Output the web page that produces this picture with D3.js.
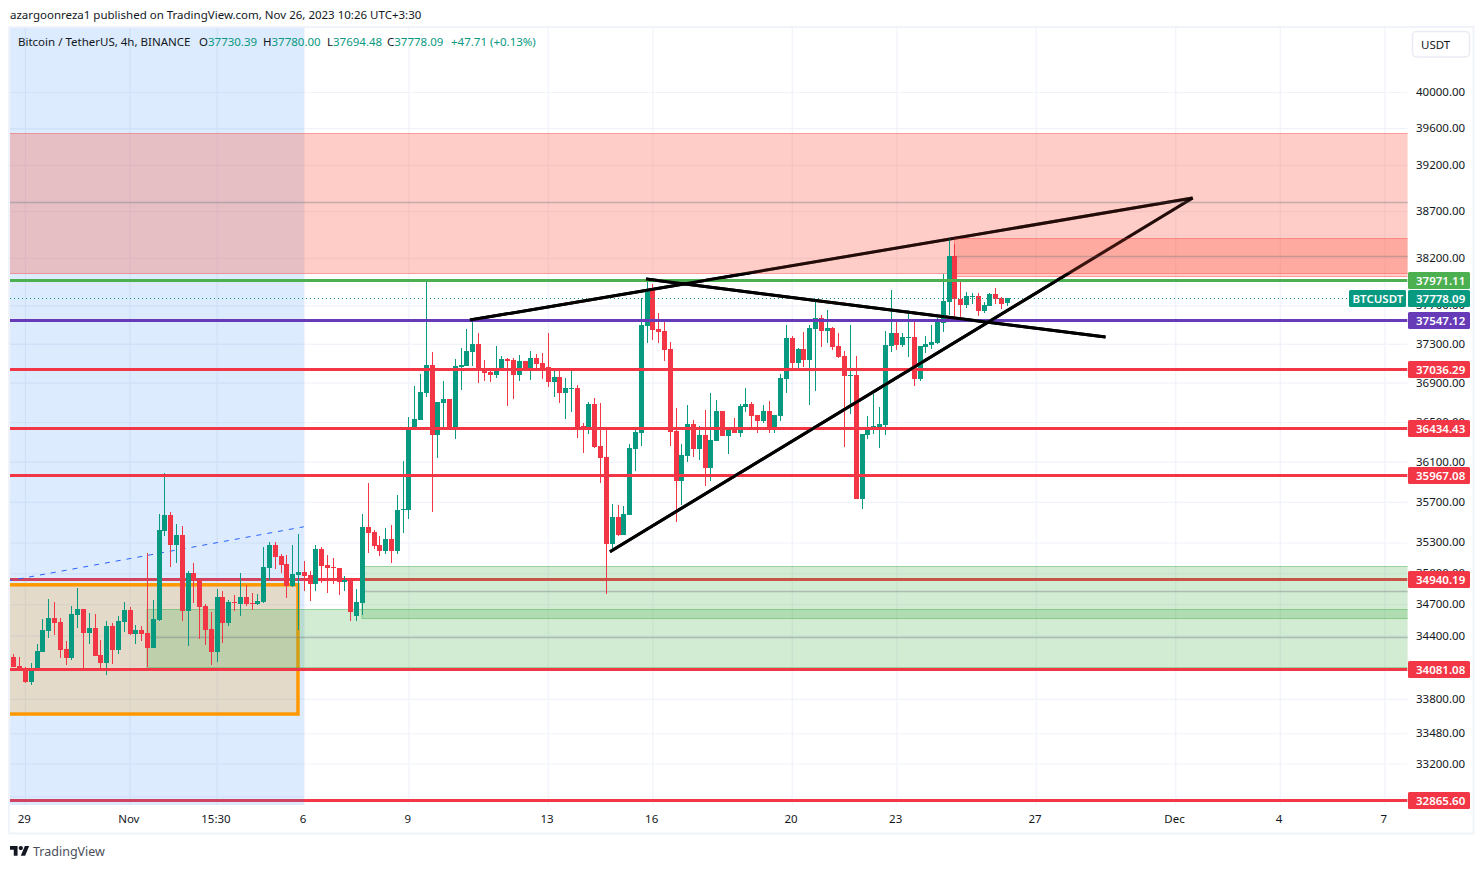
<!DOCTYPE html>
<html><head><meta charset="utf-8">
<style>
html,body{margin:0;padding:0;background:#fff}
svg{display:block}
text{font-family:"Noto Sans",Arial,sans-serif;font-size:11.5px;fill:#131722}
</style>
<script src="https://cdn.jsdelivr.net/npm/d3@7"></script>
</head><body><svg id="c" width="1484" height="869"></svg>
<script>
const opens=[34200,34114,34076,33963,34076,34247,34447,34571,34533,34275,34190,34600,34658,34428,34475,34218,34143,34494,34266,34533,34648,34418,34456,34428,34285,34552,35415,35572,35278,35376,34638,35005,34937,34686,34466,34247,34773,34523,34725,34706,34773,34715,34706,34725,35053,35278,35171,35093,34879,34986,35015,34986,34898,35239,35083,35063,35053,34918,34947,34590,34715,35454,35405,35278,35219,35337,35219,35622,35622,36431,36522,36796,37082,36370,36695,36735,36431,37062,37072,37216,37299,37041,37010,36980,37041,37144,37134,36980,37123,37041,37154,37103,37062,36909,36960,36796,36837,36847,36461,36441,36684,36259,36149,35288,35553,35376,35572,36229,36391,37486,37861,37454,37433,37247,36411,35909,36159,36481,36229,36370,36039,36310,36613,36360,36451,36391,36654,36684,36573,36512,36613,36441,36562,36939,37361,37103,37247,37134,37454,37569,37433,37465,37278,37175,36970,36980,35731,36370,36431,36451,36471,37278,37413,37289,37361,37371,36939,37268,37289,37309,37517,37736,38221,37767,37704,37788,37798,37642,37694,37819,37778,37730.39];
const highs=[34228,34200,34105,34143,34323,34562,34754,34725,34571,34351,34686,34859,34658,34618,34610,34361,34542,34523,34590,34725,34677,34504,34494,35200,34744,35582,35989,35602,35484,35464,35024,35103,34937,34706,34629,34850,34830,34744,34792,35005,34888,34811,34802,35258,35307,35307,35190,35180,35278,35386,35122,35024,35278,35258,35180,35151,35053,34976,34947,34850,35582,35889,35425,35366,35444,35474,35770,36109,36553,36868,36990,37967,37216,36705,36919,36735,37144,37258,37454,37548,37413,37134,37051,37278,37175,37154,37154,37185,37123,37227,37195,37206,37413,37041,37021,36950,37031,36878,36492,36705,36745,36695,36431,35681,35671,35661,36279,36421,37778,37977,37924,37621,37548,37319,36644,36279,36674,36522,36461,36623,36796,36725,36613,36421,36542,36684,36847,36705,36573,36674,36715,36573,36990,37496,37382,37258,37423,37496,37746,37600,37652,37475,37413,37227,37496,37175,36380,36562,36786,36654,37433,37861,37538,37413,37652,37527,37278,37382,37496,37569,38030,38412,38348,37945,37840,37830,37830,37736,37830,37882,37788,37780];
const lows=[34105,34076,33954,33935,34076,34247,34380,34409,34190,34124,34171,34475,34076,34323,34209,34076,34029,34133,34228,34437,34409,34323,34351,34105,34285,34542,35366,35063,35103,34542,34304,34715,34370,34313,34124,34152,34332,34494,34638,34590,34686,34648,34696,34715,34937,35044,35005,34763,34869,34456,34831,34734,34831,34908,34811,34898,34792,34831,34542,34542,34600,35200,35239,35171,35190,35103,35190,35396,35533,36421,36522,36756,35602,36139,36451,36431,36330,36827,37072,37072,36899,36919,36909,36950,37041,36664,36735,36919,37041,36929,37041,36939,36858,36756,36695,36532,36603,36340,36189,36380,36239,35889,34802,35210,35366,35376,35572,36009,36259,37309,37340,37309,37123,36259,35503,35671,36099,36149,36119,35859,35909,36310,36360,36179,36391,36350,36603,36451,36391,36491,36391,36391,36512,36796,37041,37041,37062,36674,36817,37268,37309,37237,37154,36249,36583,35731,35632,36330,36380,36239,36370,37216,37237,37268,37165,36868,36919,37206,37247,37299,37423,37600,37548,37579,37673,37715,37590,37621,37694,37715,37663,37694.48];
const closes=[34105,34076,33963,34086,34256,34456,34571,34523,34266,34190,34610,34658,34428,34475,34209,34143,34494,34266,34542,34648,34418,34456,34418,34285,34562,35425,35572,35278,35376,34638,35005,34937,34677,34456,34247,34773,34523,34725,34715,34773,34706,34706,34734,35063,35278,35161,35083,34879,34995,35015,34976,34898,35239,35073,35053,35053,34918,34937,34629,34725,35454,35396,35268,35219,35337,35219,35622,35632,36441,36532,36807,37082,36370,36705,36735,36431,37072,37082,37227,37299,37041,37000,36980,37051,37144,37123,36980,37123,37041,37154,37092,37041,36909,36960,36796,36847,36847,36441,36441,36684,36249,36139,35288,35553,35376,35582,36239,36401,37496,37872,37444,37423,37237,36401,35909,36169,36481,36229,36370,36039,36320,36613,36360,36421,36391,36664,36684,36562,36512,36613,36441,36573,36950,37361,37103,37247,37134,37465,37569,37433,37465,37268,37165,36970,36980,35731,36380,36441,36461,36481,37289,37413,37289,37371,37371,36939,37278,37299,37319,37527,37746,38221,37767,37704,37798,37798,37642,37704,37819,37767,37715,37778.09];

const priceTicks=[40000,39600,39200,38700,38200,37700,37300,36900,36500,36100,35700,35300,35000,34700,34400,33800,33480,33200,32900];
const timeTickBars=[2,20,35,50,68,92,110,134,152,176,200,218,236];
const timeTickLabels=["29","Nov","15:30","6","9","13","16","20","23","27","Dec","4","7"];

const levelPrices=[37971.11,37547.12,37036.29,36434.43,35967.08,34940.19,34081.08,32865.60];
const levelColors=["#4caf50","#673ab7","#f23645","#f23645","#f23645","#f23645","#f23645","#f23645"];
const underLevels=[34940.19,32865.60];

// zones: from bar, to bar, high price, low price
const greenZones=[[23,242,34658,34105],[60,242,35073,34571]];
const redZones=[[-3,242,39548,38040],[162,242,38412,38014]];
const orangeZone=[-3,49,34888,33659];
const sessionEndBar=50;
const dashedTrend=[[-1,34925],[50,35454]];
const trendLines=[[[78.6,37547],[203,38840]],[[108.9,37977],[188,37371]],[[102.7,35210],[203,38840]]];
const lastClose=37778.09;

const uiFont='"Noto Sans",Arial,sans-serif';
const svg=d3.select("#c");
const paneL=10,paneR=1407.6,paneT=28,paneB=805;
const x=d3.scaleLinear().domain([-0.57,240]).range([paneL,paneR]);
const y=d3.scaleLog().domain([40000,32865.6]).range([92,800]);
const snap=v=>Math.round(v)+0.5;
const green="#089981",red="#f23645";

const defs=svg.append("defs");
defs.append("clipPath").attr("id","pane").append("rect").attr("x",paneL).attr("y",paneT).attr("width",paneR-paneL).attr("height",paneB-paneT);
defs.append("clipPath").attr("id","below").append("rect").attr("x",paneL).attr("y",y(38040)).attr("width",paneR-paneL).attr("height",paneB-y(38040));
defs.append("clipPath").attr("id","above").append("rect").attr("x",paneL).attr("y",paneT).attr("width",paneR-paneL).attr("height",y(38040)-paneT);

// grid
const gridY=svg.append("g").attr("transform",`translate(${paneL},0)`).call(d3.axisRight(y).tickValues(priceTicks).tickSize(paneR-paneL).tickFormat(""));
const gridX=svg.append("g").attr("transform",`translate(0,${paneB})`).call(d3.axisTop(x).tickValues(timeTickBars).tickSize(paneB-paneT).tickFormat(""));
[gridY,gridX].forEach(g=>{g.select(".domain").remove();g.selectAll("line").attr("stroke","#f0f3fa").attr("stroke-width",1.2);});

const pane=svg.append("g").attr("clip-path","url(#pane)");
const hline=(g,p,c,w)=>g.append("line").attr("x1",paneL).attr("x2",paneR).attr("y1",snap(y(p))).attr("y2",snap(y(p))).attr("stroke",c).attr("stroke-width",w);

// levels that sit underneath the drawings
underLevels.forEach(p=>hline(pane,p,levelColors[levelPrices.indexOf(p)],3));

// session highlight
pane.append("rect").attr("x",paneL).attr("y",paneT).attr("width",x(sessionEndBar)-paneL).attr("height",paneB-paneT).attr("fill","rgba(33,125,240,0.155)");

// orange box
pane.append("rect").attr("x",x(orangeZone[0])).attr("y",y(orangeZone[2])).attr("width",x(orangeZone[1])-x(orangeZone[0])).attr("height",y(orangeZone[3])-y(orangeZone[2])).attr("fill","rgba(255,152,0,0.2)").attr("stroke","#ff9800").attr("stroke-width",3.5);

// zones
function zone(d,fill,stroke){
  const x0=x(d[0]),x1=x(d[1]),y0=snap(y(d[2])),y1=snap(y(d[3]));
  const mid=Math.floor((y0+y1)/2)-0.5;
  pane.append("rect").attr("x",x0).attr("y",y0).attr("width",x1-x0).attr("height",y1-y0).attr("fill",fill).attr("stroke",stroke).attr("stroke-width",1);
  pane.append("line").attr("x1",x0).attr("x2",x1).attr("y1",mid).attr("y2",mid).attr("stroke","rgba(120,123,134,0.42)").attr("stroke-width",1.6);
}
greenZones.forEach(d=>zone(d,"rgba(76,175,80,0.25)","rgba(76,175,80,0.5)"));

// black lines below the red zones
const line=d3.line().x(d=>x(d[0])).y(d=>y(d[1]));
trendLines.forEach(t=>pane.append("path").attr("d",line(t)).attr("fill","none").attr("stroke","#000").attr("stroke-width",3));
redZones.forEach(d=>zone(d,"rgba(255,90,70,0.3)","rgba(247,82,82,0.5)"));

// dashed trend
pane.append("path").attr("d",line(dashedTrend)).attr("fill","none").attr("stroke","#2962ff").attr("stroke-width",1).attr("stroke-dasharray","5 6");

// candles
const bars=d3.range(opens.length);
const candles=pane.append("g").attr("shape-rendering","crispEdges").selectAll("g").data(bars).join("g");
const colr=i=>closes[i]>=opens[i]?green:red;
candles.append("rect").attr("x",i=>Math.round(x(i))-0.5).attr("width",1).attr("y",i=>Math.round(y(highs[i]))).attr("height",i=>Math.round(y(lows[i]))-Math.round(y(highs[i]))).attr("fill",colr);
candles.append("rect").attr("x",i=>Math.round(x(i))-2.5).attr("width",5).attr("y",i=>Math.round(y(Math.max(opens[i],closes[i])))).attr("height",i=>Math.max(1,Math.round(y(Math.min(opens[i],closes[i])))-Math.round(y(Math.max(opens[i],closes[i]))))).attr("fill",colr);

// black lines above the candles, darker inside the red zone
const lineTop=svg.append("g").attr("clip-path","url(#below)");
trendLines.forEach(t=>lineTop.append("path").attr("d",line(t)).attr("fill","none").attr("stroke","#000").attr("stroke-width",3));
const lineZone=svg.append("g").attr("clip-path","url(#above)");
trendLines.forEach(t=>lineZone.append("path").attr("d",line(t)).attr("fill","none").attr("stroke","rgba(0,0,0,0.55)").attr("stroke-width",3));

// levels above candles
levelPrices.filter(p=>!underLevels.includes(p)).forEach(p=>hline(pane,p,levelColors[levelPrices.indexOf(p)],3));

// last price dotted
pane.append("line").attr("x1",paneL).attr("x2",1349).attr("y1",snap(y(lastClose))).attr("y2",snap(y(lastClose))).attr("stroke",green).attr("stroke-width",1).attr("stroke-dasharray","1 3");

// price axis
const ay=svg.append("g").attr("transform","translate(1416,-0.2)").call(d3.axisRight(y).tickValues(priceTicks).tickSize(0).tickPadding(0).tickFormat(d3.format(".2f")));
ay.select(".domain").remove();
ay.selectAll("text").style("font-family",uiFont).style("font-size","11.5px").attr("fill","#131722");

// time axis
const ax=svg.append("g").attr("transform","translate(-1.2,815)").call(d3.axisBottom(x).tickValues(timeTickBars).tickSize(0).tickPadding(0).tickFormat((d,i)=>timeTickLabels[i]));
ax.select(".domain").remove();
ax.selectAll("text").style("font-family",uiFont).style("font-size","11.5px").attr("fill","#131722");

// price badges
function badge(p,c,label,bx,bw,tx){
  const cy=snap(y(p));
  svg.append("rect").attr("x",bx).attr("y",cy-8.5).attr("width",bw).attr("height",17).attr("rx",1.5).attr("fill",c);
  svg.append("text").attr("x",tx).attr("y",cy+4.2).style("fill","#fff").style("font-weight","600").text(label);
}
levelPrices.forEach((p,i)=>badge(p,levelColors[i],d3.format(".2f")(p),1408,62,1416));
badge(lastClose,green,d3.format(".2f")(lastClose),1408,62,1416);
badge(lastClose,green,"BTCUSDT",1349,57,1352.5);

// currency button
svg.append("rect").attr("x",1412.5).attr("y",31.5).attr("width",57).attr("height",25.5).attr("rx",4).attr("fill","#fff").attr("stroke","#e9ebf2").attr("stroke-width",1.5);
svg.append("text").attr("x",1421).attr("y",49).text("USDT");

// frame
svg.append("rect").attr("x",9).attr("y",27).attr("width",1464.5).attr("height",806.5).attr("fill","none").attr("stroke","#f0f3fa").attr("stroke-width",2);

// header
svg.append("text").attr("x",10).attr("y",19).text("azargoonreza1 published on TradingView.com, Nov 26, 2023 10:26 UTC+3:30");
svg.append("text").attr("x",18).attr("y",46).text("Bitcoin / TetherUS, 4h, BINANCE");
const ohlc=[["O","37730.39",199],["H","37780.00",263],["L","37694.48",327],["C","37778.09",387]];
ohlc.forEach(d=>{
  const t=svg.append("text").attr("x",d[2]).attr("y",46);
  t.append("tspan").text(d[0]);
  t.append("tspan").style("fill",green).text(d[1]);
});
svg.append("text").attr("x",451).attr("y",46).style("fill",green).text("+47.71 (+0.13%)");

// footer
const logo=svg.append("g").attr("transform","translate(10,843.8) scale(0.54)").attr("fill","#131722");
logo.append("path").attr("d","M14 22H7V11H0V4h14v18zM28 22h-8l7.5-18h8L28 22z");
logo.append("circle").attr("cx",20).attr("cy",8).attr("r",4);
svg.append("text").attr("x",33).attr("y",856).style("font-size","12.5px").style("fill","#4a4e5a").text("TradingView");
</script></body></html>
